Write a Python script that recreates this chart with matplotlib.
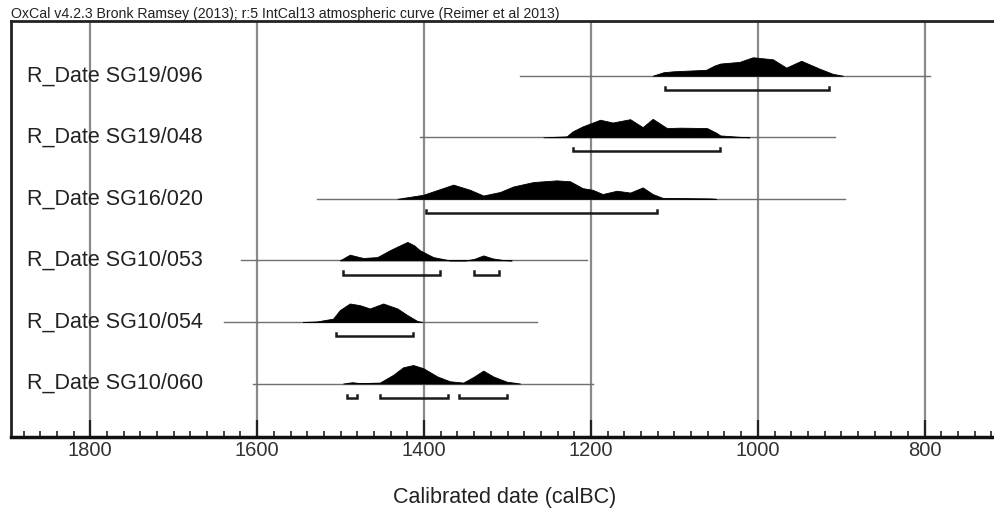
import matplotlib.pyplot as plt
import numpy as np

plt.rcParams['font.family'] = ['Liberation Sans', 'DejaVu Sans']

# Sample labels, top to bottom
labels = ["R_Date SG19/096", "R_Date SG19/048", "R_Date SG16/020",
          "R_Date SG10/053", "R_Date SG10/054", "R_Date SG10/060"]

# Calibrated probability distributions (years calBC, relative probability)
years_096 = [1126, 1113, 1101, 1062, 1052, 1045, 1022, 1006, 982, 966, 948, 926, 910, 898]
prob_096 = [0, .19, .24, .32, .55, .66, .75, 1.0, .89, .44, .81, .38, .10, 0]

years_048 = [1257, 1229, 1222, 1210, 1189, 1174, 1153, 1138, 1126, 1109, 1093, 1061, 1050, 1045, 1020, 1010]
prob_048 = [0, .05, .32, .59, .95, .80, .98, .55, 1.0, .50, .52, .50, .25, .10, .02, 0]

years_020 = [1432, 1401, 1365, 1345, 1329, 1309, 1293, 1269, 1241, 1225, 1210, 1198, 1186, 1169, 1153, 1138, 1126, 1114, 1057, 1050]
prob_020 = [0, .22, .77, .49, .18, .37, .67, .91, 1.0, .95, .58, .49, .26, .44, .34, .62, .26, .05, .02, 0]

years_053 = [1501, 1489, 1473, 1456, 1441, 1430, 1420, 1412, 1405, 1389, 1369, 1350, 1340, 1329, 1318, 1305, 1295]
prob_053 = [0, .31, .13, .18, .55, .79, 1.0, .82, .55, .18, 0, 0, .08, .27, .11, .02, 0]

years_054 = [1545, 1528, 1509, 1501, 1489, 1477, 1465, 1449, 1432, 1420, 1408, 1402]
prob_054 = [0, .03, .18, .64, 1.0, .91, .73, 1.0, .73, .37, .05, 0]

years_060 = [1497, 1486, 1477, 1453, 1437, 1425, 1413, 1401, 1384, 1369, 1353, 1341, 1329, 1317, 1301, 1285]
prob_060 = [0, .07, .02, .05, .47, .88, 1.0, .83, .38, .12, .05, .35, .70, .38, .10, 0]

# Full extent of each distribution (thin line)
extent_starts = [1285, 1405, 1528, 1619, 1640, 1605]
extent_ends = [794, 907, 896, 1205, 1265, 1198]

# 95.4% ranges (brackets)
ranges = [
    [(1111, 915)],
    [(1222, 1045)],
    [(1398, 1121)],
    [(1497, 1381), (1340, 1310)],
    [(1505, 1413)],
    [(1492, 1480), (1453, 1371), (1358, 1301)],
]

dist_years = [years_096, years_048, years_020, years_053, years_054, years_060]
dist_probs = [prob_096, prob_048, prob_020, prob_053, prob_054, prob_060]

fig = plt.figure(figsize=(9.94, 5.11), dpi=100)
ax = fig.add_axes([11 / 994, 1 - 437 / 511, 983 / 994, 416 / 511])
ax.set_xlim(1895, 717)
n = len(labels)
ax.set_ylim(-0.869, n - 1 + 0.889)

peak = 0.30      # peak height of each distribution in row units
bar_off = 0.23   # bracket offset below baseline
hook = 0.05

# left edge of the sample labels, 27 px from the figure edge
x_text = ax.transData.inverted().transform((27, 0))[0]

for i in range(n):
    base = n - 1 - i
    ax.plot([extent_starts[i], extent_ends[i]], [base, base], color='#707070', lw=1, zorder=2)
    ys = base + peak * np.array(dist_probs[i])
    ax.fill_between(dist_years[i], base, ys, color='black', lw=0.6, edgecolor='black', zorder=3)
    for a, b in ranges[i]:
        yb = base - bar_off
        ax.plot([a, a, b, b], [yb + hook, yb, yb, yb + hook], color='#1a1a1a', lw=1.8,
                solid_joinstyle='miter', zorder=3)
    ax.text(x_text, base, labels[i], fontsize=15.5, color='#222222', va='center', ha='left')

ax.set_xticks(np.arange(1800, 700, -200))
ax.set_xticks(np.arange(1880, 700, -20), minor=True)
ax.set_yticks([])
ax.grid(which='major', axis='x', color='#8a8a8a', lw=1.6, zorder=0)
ax.tick_params(axis='x', which='major', direction='in', length=12, width=1.6,
               color='#222222', labelsize=14.5, labelcolor='#333333', pad=3)
ax.tick_params(axis='x', which='minor', direction='in', length=4, width=1.2, color='#222222')

for side in ['left', 'top']:
    ax.spines[side].set_linewidth(2)
    ax.spines[side].set_color('#222222')
ax.spines['bottom'].set_linewidth(2.5)
ax.spines['bottom'].set_color('#111111')
ax.spines['right'].set_visible(False)

fig.text(11 / 994, 1 - 18 / 511,
         "OxCal v4.2.3 Bronk Ramsey (2013); r:5 IntCal13 atmospheric curve (Reimer et al 2013)",
         fontsize=10.2, color='#222222', va='baseline', ha='left')
fig.text(505 / 994, 1 - 497 / 511, "Calibrated date (calBC)", fontsize=15.5,
         color='#222222', ha='center', va='center')

fig.savefig('out.png', dpi=100)
